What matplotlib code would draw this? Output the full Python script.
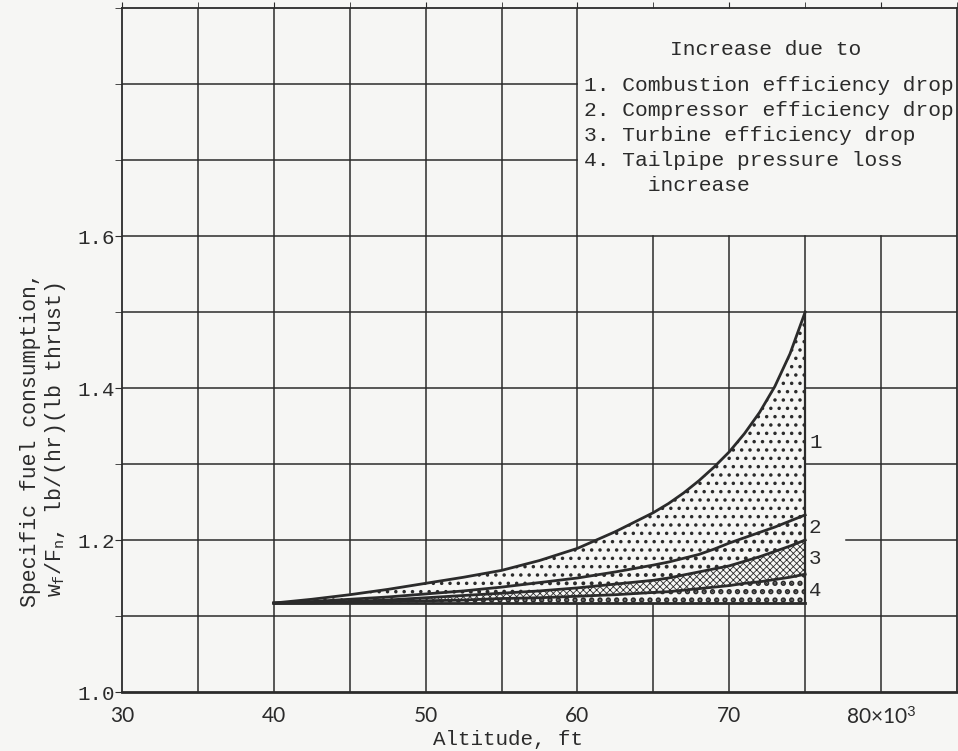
import matplotlib.pyplot as plt
import numpy as np

# altitude, thousands of ft
ALT = [40, 42.5, 45, 47.5, 50, 52.5, 55, 57.5, 60, 62.5, 65,
       66, 67, 68, 69, 70, 71, 72, 73, 74, 75]

# specific fuel consumption
SFC_1 = [1.117, 1.122, 1.128, 1.135, 1.143, 1.151, 1.160, 1.173, 1.189, 1.211, 1.236,
         1.248, 1.262, 1.278, 1.296, 1.316, 1.340, 1.368, 1.402, 1.445, 1.500]
SFC_2 = [1.117, 1.119, 1.122, 1.125, 1.129, 1.133, 1.138, 1.144, 1.150, 1.158, 1.167,
         1.171, 1.176, 1.181, 1.188, 1.196, 1.203, 1.210, 1.217, 1.225, 1.233]
SFC_3 = [1.117, 1.118, 1.119, 1.121, 1.124, 1.127, 1.130, 1.133, 1.137, 1.142, 1.147,
         1.150, 1.154, 1.158, 1.162, 1.166, 1.172, 1.178, 1.185, 1.192, 1.200]
SFC_4 = [1.117, 1.117, 1.118, 1.119, 1.120, 1.121, 1.123, 1.124, 1.126, 1.128, 1.131,
         1.132, 1.134, 1.136, 1.138, 1.140, 1.143, 1.145, 1.148, 1.151, 1.155]
SFC_BASE = 1.117

CAUSES = ["Combustion efficiency drop",
          "Compressor efficiency drop",
          "Turbine efficiency drop",
          "Tailpipe pressure loss\n     increase"]

X_TICKS = [30, 40, 50, 60, 70, 80]
X_LABELS = ["30", "40", "50", "60", "70", "80×10$^3$"]
Y_TICKS = [1.0, 1.2, 1.4, 1.6]

MONO = "Liberation Mono"
INK = "#2b2b2b"
PAPER = "#f6f6f4"

plt.rcParams['font.family'] = [MONO, 'DejaVu Sans']
plt.rcParams['mathtext.fontset'] = 'custom'
plt.rcParams['mathtext.rm'] = MONO
plt.rcParams['mathtext.it'] = MONO
plt.rcParams['hatch.linewidth'] = 1.0


def main():
    fig = plt.figure(figsize=(9.58, 7.51), dpi=100, facecolor=PAPER)
    ax = fig.add_axes([122 / 958, 59 / 751, 835 / 958, 684 / 751])
    ax.set_facecolor(PAPER)
    ax.set_xlim(30, 85)
    ax.set_ylim(1.0, 1.9)

    # grid, with the legend corner left blank
    for x in np.arange(35, 85, 5):
        top = 1.0 if x <= 60 else (1.6 - 1.0) / 0.9
        ax.axvline(x, ymax=top, color=INK, lw=1.1, zorder=1)
    for y in np.arange(1.1, 1.9, 0.1):
        right = 1.0 if y < 1.65 else (60 - 30) / 55
        if abs(y - 1.2) < 1e-6:
            ax.axhline(y, xmax=(75 - 30) / 55, color=INK, lw=1.1, zorder=1)
            ax.axhline(y, xmin=(77.7 - 30) / 55, color=INK, lw=1.1, zorder=1)
        else:
            ax.axhline(y, xmax=right, color=INK, lw=1.1, zorder=1)

    x = np.array(ALT)
    base = np.full_like(x, SFC_BASE, dtype=float)
    layers = [(SFC_2, SFC_1, '..', 1.3),
              (SFC_3, SFC_2, '..', 1.6),
              (SFC_4, SFC_3, 'xxxxx', 0.6),
              (base, SFC_4, '..', 2.6)]
    for lo, hi, hatch, hlw in layers:
        poly = ax.fill_between(x, lo, hi, facecolor=PAPER, edgecolor=INK,
                               hatch=hatch, linewidth=0, zorder=2)
        if hasattr(poly, 'set_hatch_linewidth'):
            poly.set_hatch_linewidth(hlw)

    for ys in (SFC_1, SFC_2, SFC_3, SFC_4, base):
        ax.plot(x, ys, color=INK, lw=2.0, zorder=3)
    ax.plot([75, 75], [SFC_BASE, SFC_1[-1]], color=INK, lw=1.6, zorder=3)

    for i, y in enumerate([1.328, 1.217, 1.176, 1.134]):
        ax.text(75.25, y, str(i + 1), fontsize=15, color=INK, va='center', ha='left')

    ax.text(72.4, 1.845, "Increase due to", fontsize=15.3, color=INK, ha='center', va='center')
    legend = "\n".join(f"{i + 1}. {c}" for i, c in enumerate(CAUSES))
    ax.text(60.4, 1.811, legend, fontsize=15.3, color=INK, ha='left', va='top',
            linespacing=1.4)

    ax.set_xticks(X_TICKS)
    ax.set_xticklabels(X_LABELS, fontsize=15, family=['Lato', 'DejaVu Sans'])
    ax.set_yticks(Y_TICKS)
    ax.set_yticklabels([f"{v:.1f}" for v in Y_TICKS], fontsize=15)
    ax.set_yticks(np.arange(1.0, 1.95, 0.1), minor=True)
    ax.set_xticks(np.arange(30, 86, 5), minor=True)
    ax.tick_params(axis='x', which='both', bottom=False, top=True, direction='out',
                   length=4, colors=INK, pad=6)
    ax.tick_params(axis='y', which='both', direction='out', length=5, colors=INK, pad=0)

    for s in ax.spines.values():
        s.set_color(INK)
        s.set_linewidth(1.3)
    ax.spines['bottom'].set_linewidth(2.0)

    ax.set_xlabel("Altitude, ft", fontsize=15, color=INK, labelpad=2)
    ax.xaxis.set_label_coords((508 - 122) / 835, -0.055)
    fig.text(0.046, 1.0 - 440 / 751,
             "Specific fuel consumption,\n$w_f/F_n$, lb/(hr)(lb thrust)",
             rotation=90, ha='center', va='center', multialignment='center',
             fontsize=15.5, color=INK, linespacing=1.15)

    fig.savefig("out.png", dpi=100, facecolor=PAPER)


if __name__ == "__main__":
    main()
